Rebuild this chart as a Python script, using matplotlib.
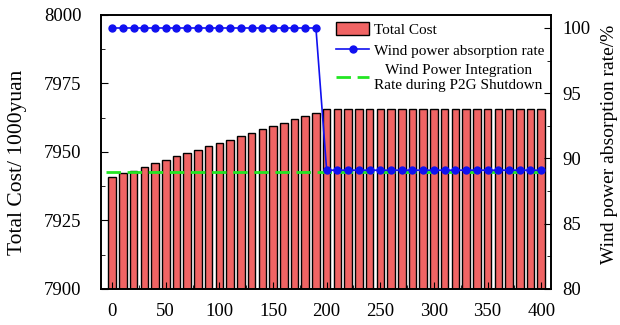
import numpy as np
import matplotlib
matplotlib.use("Agg")
import matplotlib.pyplot as plt
from matplotlib.ticker import MultipleLocator

plt.rcParams['font.family'] = ['Liberation Serif', 'DejaVu Serif']

# data
p2g_power = list(range(0, 401, 10))
total_cost = [7940.8, 7942.2, 7943.2, 7944.6, 7945.9, 7947.0, 7948.4, 7949.6,
              7950.7, 7952.1, 7953.3, 7954.5, 7955.7, 7956.9, 7958.3, 7959.5,
              7960.7, 7961.9, 7963.1, 7964.3] + [7965.7] * 21
absorption_rate = [100.0] * 20 + [89.1] * 21
shutdown_rate = 89.0

fig, ax = plt.subplots(figsize=(6.2, 3.25), dpi=100)
fig.subplots_adjust(left=0.163, right=0.889, top=0.954, bottom=0.111)

bars = ax.bar(p2g_power, total_cost, width=7, bottom=0, color='#F06464',
              edgecolor='black', linewidth=1.0, label='Total Cost')
ax.set_ylim(7900, 8000)
ax.set_xlim(-10.3, 409.3)
ax.set_ylabel('Total Cost/ 1000yuan', fontsize=15.5)
ax.yaxis.set_label_coords(-0.164, 0.463)
ax.yaxis.set_major_locator(MultipleLocator(25))
ax.yaxis.set_minor_locator(MultipleLocator(12.5))
ax.xaxis.set_major_locator(MultipleLocator(50))
ax.xaxis.set_minor_locator(MultipleLocator(25))
ax.tick_params(which='both', direction='in', labelsize=13.5)
ax.tick_params(which='major', length=5)
ax.tick_params(which='minor', length=3)
ax.tick_params(axis='y', which='major', pad=14)
ax.tick_params(axis='x', which='major', pad=10)

ax2 = ax.twinx()
hline = ax2.axhline(shutdown_rate, color='#22E622', linestyle=(0, (5.2, 2.4)),
                    linewidth=2.0, xmin=0.01, xmax=0.99,
                    label='Wind Power Integration\nRate during P2G Shutdown')
line, = ax2.plot(p2g_power, absorption_rate, color='#1010F0', marker='o',
                 markersize=5, linewidth=1.2, label='Wind power absorption rate')
ax2.set_ylim(80, 101)
ax2.set_ylabel('Wind power absorption rate/%', fontsize=14)
ax2.yaxis.set_label_coords(1.111, 0.526)
ax2.yaxis.set_major_locator(MultipleLocator(5))
ax2.yaxis.set_minor_locator(MultipleLocator(2.5))
ax2.tick_params(which='both', direction='in', labelsize=13.5)
ax2.tick_params(which='major', length=5, pad=8)
ax2.tick_params(which='minor', length=3)

for a in (ax, ax2):
    for s in a.spines.values():
        s.set_linewidth(1.2)

leg = ax2.legend([bars, line, hline],
                 ['Total Cost', 'Wind power absorption rate',
                  'Wind Power Integration\nRate during P2G Shutdown'],
                 loc='upper right', frameon=False, fontsize=11,
                 handlelength=2.2, handleheight=1.0, handletextpad=0.3,
                 labelspacing=0.4, borderaxespad=0.05)
for t in leg.get_texts():
    t.set_multialignment('center')

fig.savefig('out.png', dpi=100)
